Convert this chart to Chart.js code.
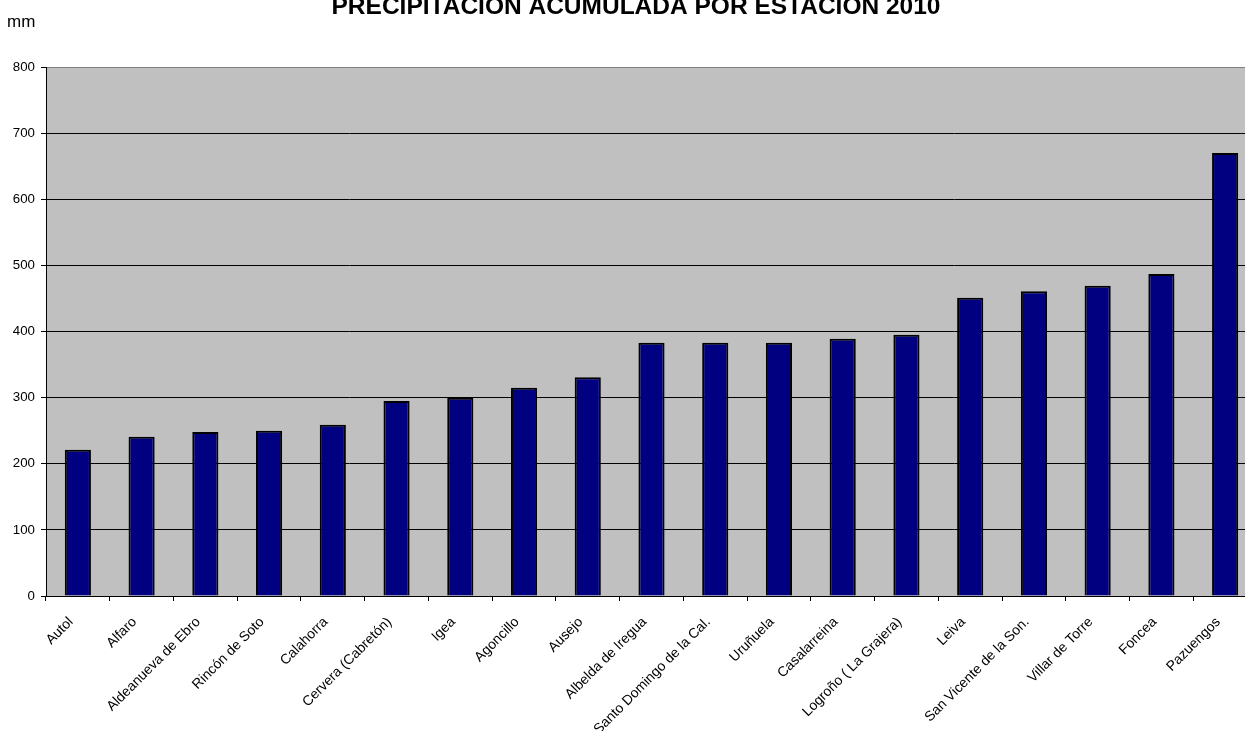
<!DOCTYPE html>
<html>
<head>
<meta charset="utf-8">
<script src="https://cdn.jsdelivr.net/npm/chart.js@4/dist/chart.umd.min.js"></script>
<style>
  html, body { margin: 0; padding: 0; background: #fff; overflow: hidden; }
  #wrap { width: 1262px; height: 731px; }
</style>
</head>
<body>
<div id="wrap"><canvas id="myChart" width="1262" height="731"></canvas></div>
<script>
const estaciones = ['Autol', 'Alfaro', 'Aldeanueva de Ebro', 'Rincón de Soto', 'Calahorra',
  'Cervera (Cabretón)', 'Igea', 'Agoncillo', 'Ausejo', 'Albelda de Iregua',
  'Santo Domingo de la Cal.', 'Uruñuela', 'Casalarreina', 'Logroño ( La Grajera)', 'Leiva',
  'San Vicente de la Son.', 'Villar de Torre', 'Foncea', 'Pazuengos'];
const precipitacion = [221, 241, 248, 250, 259, 295, 300, 315, 331, 383,
  383, 383, 389, 395, 451, 461, 469, 487, 670];
const titulo = 'PRECIPITACIÓN ACUMULADA POR ESTACIÓN 2010';
const unidad = 'mm';

const FONT = 'Arial, "Liberation Sans", sans-serif';

// gray plot background + heading texts
const fondo = {
  id: 'fondo',
  beforeDraw(chart) {
    const { ctx, chartArea: a } = chart;
    ctx.save();
    ctx.fillStyle = '#c0c0c0';
    ctx.fillRect(a.left, a.top, a.right - a.left, a.bottom - a.top);
    ctx.restore();
  },
  afterDraw(chart) {
    const ctx = chart.ctx;
    ctx.save();
    ctx.fillStyle = '#000';
    ctx.textBaseline = 'alphabetic';
    ctx.textAlign = 'center';
    ctx.font = 'bold 24.5px ' + FONT;
    ctx.fillText(titulo, 636, 14);
    ctx.textAlign = 'left';
    ctx.font = '17px ' + FONT;
    ctx.fillText(unidad, 7, 27);
    ctx.restore();
  }
};

const ctx = document.getElementById('myChart');

const chart = new Chart(ctx, {
  type: 'bar',
  data: {
    labels: estaciones,
    datasets: [{
      data: precipitacion,
      backgroundColor: '#000080',
      borderColor: '#000',
      borderWidth: 2,
      borderSkipped: 'bottom',
      categoryPercentage: 1,
      barPercentage: 0.41
    }]
  },
  options: {
    responsive: false,
    animation: false,
    layout: { padding: { top: 67, right: 5, left: 0, bottom: 0 } },
    plugins: {
      legend: { display: false },
      tooltip: { enabled: false }
    },
    scales: {
      x: {
        offset: true,
        border: { color: '#000', width: 1 },
        grid: { drawOnChartArea: false, offset: true, tickLength: 5, tickColor: '#000' },
        ticks: {
          autoSkip: false,
          minRotation: 45,
          maxRotation: 45,
          padding: 13,
          labelOffset: -7,
          color: '#000',
          font: { family: FONT, size: 13.9 }
        },
        afterFit(axis) { axis.height = 135; }
      },
      y: {
        min: 0,
        max: 800,
        border: { color: '#000', width: 1 },
        grid: {
          color: (c) => c.tick && c.tick.value === 800 ? '#808080' : '#000',
          tickColor: '#000',
          tickLength: 5,
          lineWidth: 1
        },
        ticks: {
          stepSize: 100,
          padding: 6,
          color: '#000',
          font: { family: FONT, size: 13.3 }
        },
        afterFit(axis) { axis.width = 46; }
      }
    }
  },
  plugins: [fondo]
});
</script>
</body>
</html>
